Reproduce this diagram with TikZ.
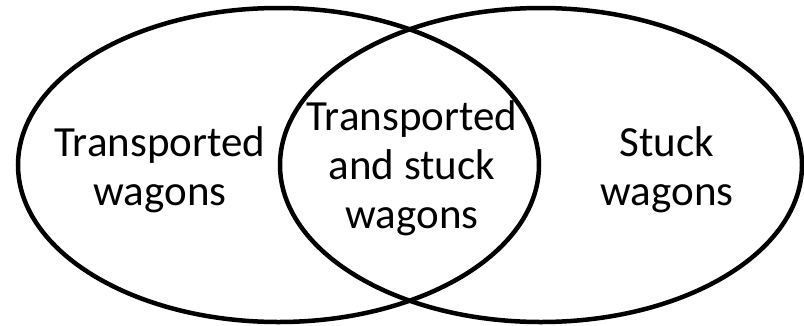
\documentclass[tikz,border=0pt]{standalone}
\usepackage{fontspec}
\setmainfont{Carlito}
\begin{document}
\begin{tikzpicture}[x=1pt,y=-1pt,
  setline/.style={draw=black,line width=4.5pt},
  lbl/.style={align=center,inner sep=0pt,font=\fontsize{43pt}{49pt}\selectfont}]
\useasboundingbox (0,0) rectangle (804,325);
\draw[setline] (278.5,165) ellipse [x radius=260.5, y radius=157];
\draw[setline] (541,165) ellipse [x radius=261, y radius=157];
\node[lbl] (left) at (160,170) {Transported\\wagons};
\node[lbl] (mid) at (412,168.5) {Transported\\and stuck\\wagons};
\node[lbl] (right) at (667,170) {Stuck\\wagons};
\end{tikzpicture}
\end{document}
